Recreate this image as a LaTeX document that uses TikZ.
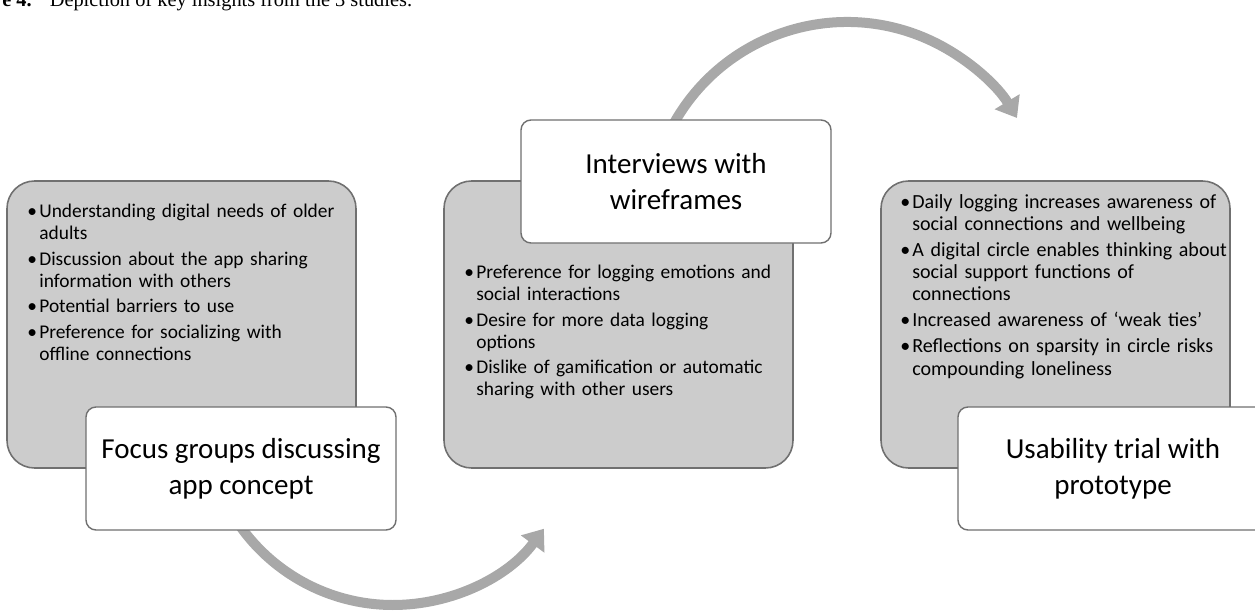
\documentclass[tikz,border=0pt]{standalone}
\usepackage{fontspec}
\setmainfont{Carlito}
\newfontfamily\capfont{Liberation Serif}
\usepackage{tikz}
\usetikzlibrary{arrows.meta}
\definecolor{panelgray}{RGB}{204,204,204}
\definecolor{edgegray}{RGB}{112,112,112}
\definecolor{flowgray}{RGB}{168,168,168}
\tikzset{panel/.style = {draw=edgegray, fill=panelgray, line width=0.9pt,
                         rounded corners=0.55cm,
                         minimum width=6.98cm, minimum height=5.74cm}}
\tikzset{study/.style = {draw=edgegray, fill=white, line width=0.8pt,
                         rounded corners=0.2cm, align=center,
                         minimum width=6.2cm, minimum height=2.46cm,
                         font=\fontsize{16.5}{20.5}\selectfont}}
\tikzset{notes/.style = {anchor=base west, inner sep=0pt, text width=6.9cm,
                         align=left, font=\fontsize{11.05}{12.35}\selectfont}}
\tikzset{flow/.style = {draw=flowgray, line width=0.2cm,
                        -{Triangle[length=0.38cm, width=0.56cm]}}}
\newcommand{\insight}[1]{\setlength{\parskip}{2.3pt}\noindent
  \hangindent=0.24cm\hangafter=1\makebox[0.24cm][l]{\textbullet}#1\par}

\begin{document}
\begin{tikzpicture}
    \useasboundingbox (0, 0) rectangle (25.1, -12.3);
    \coordinate (hubA) at (7.86, -8.35);
    \coordinate (hubB) at (16.94, -4.41);
    \draw [flow] (hubA) ++(-150:3.75) arc [start angle=-150, end angle=-36.4, radius=3.75];
    \draw [flow] (hubB) ++(153:3.97) arc [start angle=153, end angle=31.1, radius=3.97];
    \node [panel] (focusbox) at (3.63, -6.49) {};
    \node [panel] (interviewbox) at (12.37, -6.49) {};
    \node [panel] (trialbox) at (21.11, -6.49) {};
    \node [notes] (focusnotes) at (0.54, -4.36) {%
      \insight{Understanding digital needs of older\newline adults}
      \insight{Discussion about the app sharing\newline information with others}
      \insight{Potential barriers to use}
      \insight{Preference for socializing with\newline offline connections}};
    \node [notes] (interviewnotes) at (9.28, -5.58) {%
      \insight{Preference for logging emotions and\newline social interactions}
      \insight{Desire for more data logging\newline options}
      \insight{Dislike of gamification or automatic\newline sharing with other users}};
    \node [notes, font=\fontsize{11.4}{12.6}\selectfont] (trialnotes) at (18.0, -4.16) {%
      \insight{Daily logging increases awareness of\newline social connections and wellbeing}
      \insight{A digital circle enables thinking about\newline social support functions of\newline connections}
      \insight{Increased awareness of ‘weak ties’}
      \insight{Reflections on sparsity in circle risks\newline compounding loneliness}};
    \node [study] (focus) at (4.82, -9.37) {Focus groups discussing\\app concept};
    \node [study] (interview) at (13.52, -3.63) {Interviews with\\wireframes};
    \node [study] (trial) at (22.26, -9.37) {Usability trial with\\prototype};
    \node [anchor=base west, inner sep=0pt, font=\capfont\fontsize{11.6}{13}\selectfont]
      (caption) at (0.04, -0.13) {\textbf{e 4.}\hspace{0.36cm}Depiction of key insights from the 3 studies.};
  \end{tikzpicture}
\end{document}
